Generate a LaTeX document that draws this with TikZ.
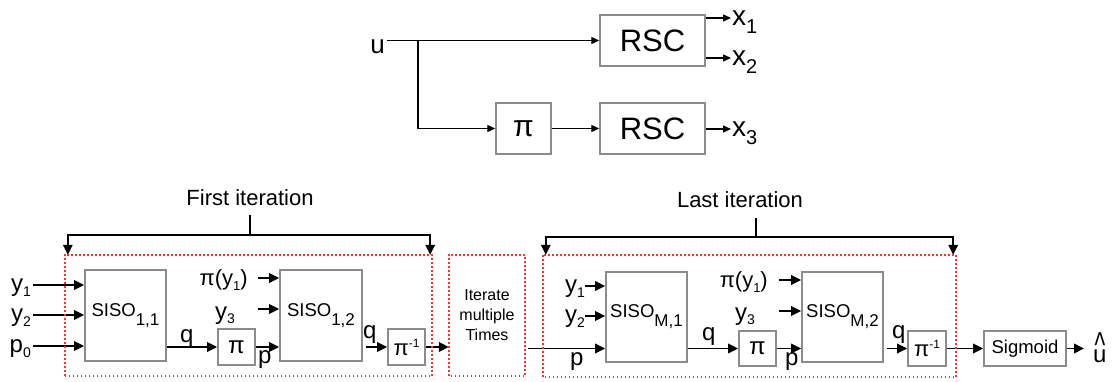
\documentclass[tikz,border=0pt]{standalone}
\usepackage{fontspec}
\usepackage{graphicx}
\setmainfont{Liberation Sans}
\usetikzlibrary{arrows.meta}
\definecolor{boxgray}{HTML}{8C8C8C}
\definecolor{dotred}{HTML}{FF3030}
\newcommand\fsz[1]{\fontsize{#1}{#1}\selectfont}
\newcommand\lsub[3]{\raisebox{-#2pt}{\fsz{#1}#3}}
\newcommand\lsup[3]{\raisebox{#2pt}{\fsz{#1}#3}}
\tikzset{
  tbox/.style={draw=boxgray, line width=1.5pt, fill=white, inner sep=0pt},
  bbox/.style={draw=boxgray, line width=1.8pt, fill=white, inner sep=0pt},
  redbox/.style={draw=dotred, line width=1.8pt, dash pattern=on 1.8pt off 2.2pt, inner sep=0pt},
  tarr/.style={line width=1.3pt, -{Triangle[length=8pt,width=7pt]}},
  tline/.style={line width=1.3pt},
  barr/.style={line width=1.9pt, -{Triangle[length=10pt,width=9.5pt]}},
  bline/.style={line width=1.9pt},
  xlbl/.style={inner sep=1pt, text height=14.5pt, text depth=0pt, font=\fsz{28}},
  blbl/.style={inner sep=0pt, text height=12.5pt, text depth=0pt, font=\fsz{24}},
  plbl/.style={inner sep=0pt, text height=11.5pt, text depth=0pt, font=\fsz{22}},
}
\begin{document}
\begin{tikzpicture}[x=1pt,y=-1pt]
\useasboundingbox (0,0) rectangle (1115,382);

% ---------- top: encoder ----------
\node[tbox, minimum width=105pt, minimum height=51pt, font=\fsz{31}] (rsc1) at (652.5,40.5) {RSC};
\node[tbox, minimum width=105pt, minimum height=51pt, font=\fsz{31}] (rsc2) at (652.5,128.5) {RSC};
\node[tbox, minimum width=55pt, minimum height=51pt, font=\fsz{30}] (pit) at (523.5,128.5) {π};
\node[inner sep=2pt, text height=13.5pt, text depth=0pt, font=\fsz{26}] (u) at (377.5,46.5) {u};
\coordinate (br) at (418,40.5);
\draw[tarr] (u.east |- rsc1.west) -- (rsc1.west);
\draw[tarr] (br) |- (pit.west);
\draw[tarr] (pit) -- (rsc2);
\node[xlbl, anchor=west] (x1) at (731,18) {x\lsub{20}{8}{1}};
\node[xlbl, anchor=west] (x2) at (731,58) {x\lsub{20}{8}{2}};
\node[xlbl, anchor=west] (x3) at (731,129) {x\lsub{20}{8}{3}};
\draw[tarr] (rsc1.east |- x1.west) -- (x1.west);
\draw[tarr] (rsc1.east |- x2.west) -- (x2.west);
\draw[tarr] (rsc2.east |- x3.west) -- (x3.west);

% ---------- bottom: decoder ----------
\node[minimum width=367pt, minimum height=121pt, inner sep=0pt] (first) at (248.5,315.5) {};
\node[minimum width=76pt, minimum height=121pt, inner sep=0pt, align=center, font=\fontsize{16}{20}\selectfont] (iter) at (487,315.5) {Iterate\\multiple\\Times};
\node[minimum width=413pt, minimum height=122pt, inner sep=0pt] (last) at (749.5,316) {};

% brackets
\node[inner xsep=0pt, inner ysep=9pt, font=\fsz{22}] (fi) at (250,198) {First iteration};
\coordinate (fb) at (250,235);
\draw[bline] (fi.south) -- (fb);
\draw[barr] (fb) -| ([xshift=3pt]first.north west);
\draw[barr] (fb) -| ([xshift=-2pt]first.north east);
\node[inner xsep=0pt, inner ysep=10pt, font=\fsz{22}] (li) at (740,200) {Last iteration};
\coordinate (lb) at (756,237);
\draw[bline] (li.south -| lb) -- (lb);
\draw[barr] (lb) -| ([xshift=3pt]last.north west);
\draw[barr] (lb) -| ([xshift=-3pt]last.north east);

% first iteration boxes
\node[bbox, minimum width=81pt, minimum height=91pt, font=\fsz{18.5}] (s11) at (125.5,315.5) {SISO\lsub{17}{9}{1,1}};
\node[bbox, minimum width=82pt, minimum height=91pt, font=\fsz{18.5}] (s12) at (321,315.5) {SISO\lsub{17}{9}{1,2}};
\node[bbox, minimum width=37pt, minimum height=36pt, font=\fsz{24}] (pi1) at (236.5,347) {π};
\node[bbox, minimum width=37pt, minimum height=36pt, font=\fsz{22}] (pinv1) at (406.5,347) {π\lsup{12}{8}{-1}};

% last iteration boxes
\node[bbox, minimum width=81pt, minimum height=90pt, font=\fsz{18.5}] (sm1) at (646.5,317) {SISO\lsub{17}{9}{M,1}};
\node[bbox, minimum width=81pt, minimum height=90pt, font=\fsz{18.5}] (sm2) at (842.5,317) {SISO\lsub{17}{9}{M,2}};
\node[bbox, minimum width=37pt, minimum height=35pt, font=\fsz{24}] (pi2) at (757.5,348.5) {π};
\node[bbox, minimum width=38pt, minimum height=35pt, font=\fsz{22}] (pinv2) at (927,348.5) {π\lsup{12}{8}{-1}};
\node[bbox, minimum width=82pt, minimum height=35pt, font=\fsz{18.5}] (sig) at (1025,348.5) {Sigmoid};

% first iteration labels and arrows
\node[blbl, anchor=east] (ly1) at (31,285) {y\lsub{14}{5}{1}};
\node[blbl, anchor=east] (ly2) at (31,315) {y\lsub{14}{5}{2}};
\node[blbl, anchor=east] (lp0) at (31,346) {p\lsub{14}{5}{0}};
\draw[barr] ([xshift=2pt]ly1.east) -- (ly1 -| s11.west);
\draw[barr] ([xshift=2pt]ly2.east) -- (ly2 -| s11.west);
\draw[barr] ([xshift=2pt]lp0.east) -- (lp0 -| s11.west);
\node[blbl, anchor=base west] (q1) at (180,342) {q};
\draw[barr] (s11.east |- pi1) -- (pi1.west);
\node[blbl, anchor=base west] (p1) at (258,363) {p};
\draw[barr] (pi1.east) -- (pi1.east -| s12.west);
\node[plbl, anchor=base east] (lpy1) at (248,285) {π(y\lsub{13}{5}{1})};
\node[blbl, anchor=base west] (ly3) at (215,319) {y\lsub{14}{4}{3}};
\coordinate (apy1) at (258,278);
\coordinate (ay31) at (258,309);
\draw[barr] (apy1) -- (apy1 -| s12.west);
\draw[barr] (ay31) -- (ay31 -| s12.west);
\node[blbl, anchor=base west] (q2) at (363,338) {q};
\draw[barr] ([xshift=3pt]s12.east |- pinv1) -- (pinv1.west);
\draw[barr] (pinv1.east) -- (pinv1.east -| iter.west);
\draw[bline] ([xshift=3pt]iter.east |- pi2) -- ([xshift=-12pt]pi2 -| sm1.west);
\draw[barr] ([xshift=-12pt]pi2 -| sm1.west) -- (pi2 -| sm1.west);

% last iteration labels and arrows
\node[blbl, anchor=base west] (p2) at (570,365) {p};
\node[blbl, anchor=east] (ly1b) at (585,286) {y\lsub{14}{5}{1}};
\node[blbl, anchor=east] (ly2b) at (585,316) {y\lsub{14}{5}{2}};
\draw[barr] (ly1b.east) -- (ly1b -| sm1.west);
\draw[barr] (ly2b.east) -- (ly2b -| sm1.west);
\node[blbl, anchor=base west] (q3) at (702,340) {q};
\draw[barr] (sm1.east |- pi2) -- (pi2.west);
\node[plbl, anchor=base east] (lpy2) at (768,287) {π(y\lsub{13}{5}{1})};
\node[blbl, anchor=base west] (ly32) at (735,320) {y\lsub{14}{4}{3}};
\coordinate (apy2) at (779,280);
\coordinate (ay32) at (779,311);
\draw[barr] (apy2) -- (apy2 -| sm2.west);
\draw[barr] (ay32) -- (ay32 -| sm2.west);
\node[blbl, anchor=base west] (p3) at (785,365) {p};
\draw[barr] (pi2.east) -- (pi2.east -| sm2.west);
\node[blbl, anchor=base west] (q4) at (892,338) {q};
\draw[barr] ([xshift=3pt]sm2.east |- pinv2) -- (pinv2.west);
\draw[barr] (pinv2) -- (sig);
\node[inner sep=0pt, font=\fsz{24}, anchor=base west] (uh) at (1093,362) {\ooalign{u\cr\hidewidth\raisebox{5pt}{\scalebox{0.95}[1.5]{\textasciicircum}}\hidewidth\cr}};
\draw[barr] (sig.east) -- ([xshift=-9pt]uh.west |- sig.east);

% red dotted frames
\draw[redbox] (first.south west) rectangle (first.north east);
\draw[redbox] (iter.south west) rectangle (iter.north east);
\draw[redbox] (last.south west) rectangle (last.north east);
\end{tikzpicture}
\end{document}
